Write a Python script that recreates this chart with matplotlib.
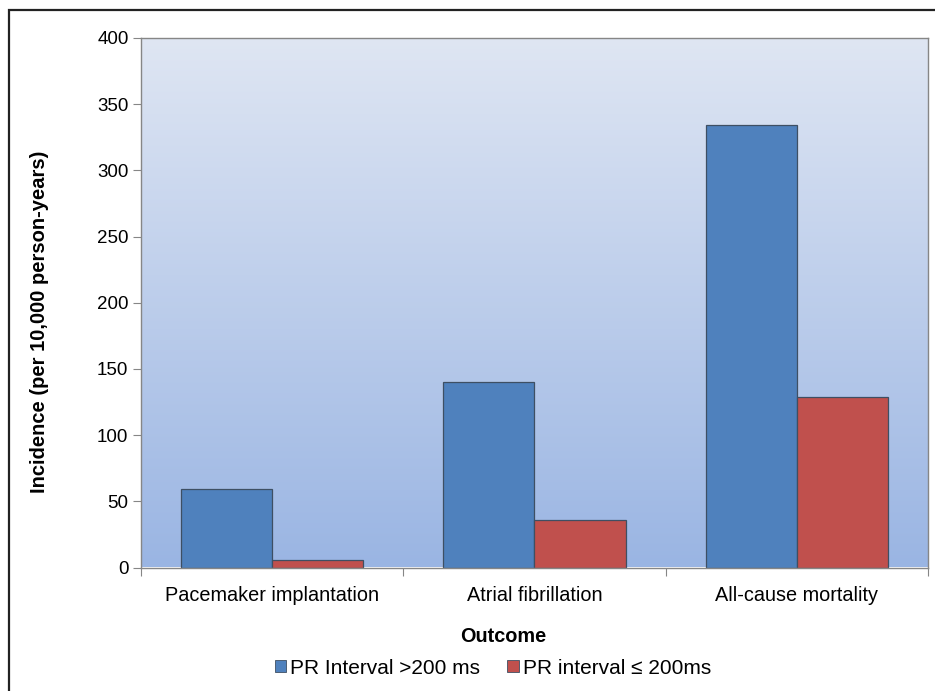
import numpy as np
import matplotlib
matplotlib.use("Agg")
import matplotlib.pyplot as plt
from matplotlib.patches import Rectangle, Patch
from matplotlib.colors import LinearSegmentedColormap

categories = ["Pacemaker implantation", "Atrial fibrillation", "All-cause mortality"]
series_names = ["PR Interval >200 ms", "PR interval \u2264 200ms"]
pr_long = [59, 140, 334]
pr_normal = [6, 36, 129]
yticks = [0, 50, 100, 150, 200, 250, 300, 350, 400]

plt.rcParams['font.family'] = ['Liberation Sans', 'DejaVu Sans']

W, H = 935, 691
fig = plt.figure(figsize=(W / 100, H / 100), dpi=100)

# outer frame
fig.patches.append(Rectangle((9 / W, -0.05), 1.2, 1 - 10 / H + 0.05, transform=fig.transFigure,
                             fill=False, edgecolor='#222222', linewidth=1.6, zorder=0))

ax = fig.add_axes([141 / W, 1 - 567.5 / H, (928 - 141) / W, (567.5 - 38) / H])
ax.set_xlim(-0.5, 2.5)
ax.set_ylim(0, 400)

# gradient background
cmap = LinearSegmentedColormap.from_list('bg', ['#9ab5e3', '#dfe6f3'])
grad = np.linspace(0, 1, 256).reshape(-1, 1)
ax.imshow(grad, cmap=cmap, aspect='auto', extent=(-0.5, 2.5, 0, 400), origin='lower', zorder=0)

x = np.arange(len(categories))
bw = 0.347
ax.bar(x - bw / 2, pr_long, bw, color='#4f81bd', edgecolor='#3e4f63', linewidth=0.9, zorder=2,
       label=series_names[0])
ax.bar(x + bw / 2, pr_normal, bw, color='#c0504d', edgecolor='#3e4f63', linewidth=0.9, zorder=2,
       label=series_names[1])

for s in ax.spines.values():
    s.set_color('#868686')
    s.set_linewidth(1.0)

ax.set_yticks(yticks)
ax.set_yticklabels([str(v) for v in yticks], fontsize=13.5)
ax.tick_params(axis='y', direction='out', length=6, color='#868686', pad=3)

ax.set_xticks([-0.5, 0.5, 1.5, 2.5])
ax.set_xticklabels([])
ax.tick_params(axis='x', which='major', direction='out', length=6, color='#868686')
ax.set_xticks(x, minor=True)
ax.set_xticklabels(categories, minor=True, fontsize=14.3)
ax.tick_params(axis='x', which='minor', length=0, pad=13)

fig.text(40 / W, 1 - 322 / H, "Incidence (per 10,000 person-years)", rotation=90,
         ha='center', va='center', fontsize=14.5, fontweight='bold')
fig.text(503 / W, 1 - 637 / H, "Outcome", ha='center', va='center', fontsize=14.3, fontweight='bold')

handles = [Patch(facecolor='#4f81bd', edgecolor='#3e4f63', linewidth=0.6),
           Patch(facecolor='#c0504d', edgecolor='#3e4f63', linewidth=0.6)]
fig.legend(handles, series_names, loc='center', bbox_to_anchor=(493 / W, 1 - 668 / H), ncol=2,
           frameon=False, fontsize=15, handlelength=0.55, handleheight=0.55,
           handletextpad=0.2, columnspacing=1.3, borderaxespad=0, borderpad=0)

fig.savefig("out.png", dpi=100)
